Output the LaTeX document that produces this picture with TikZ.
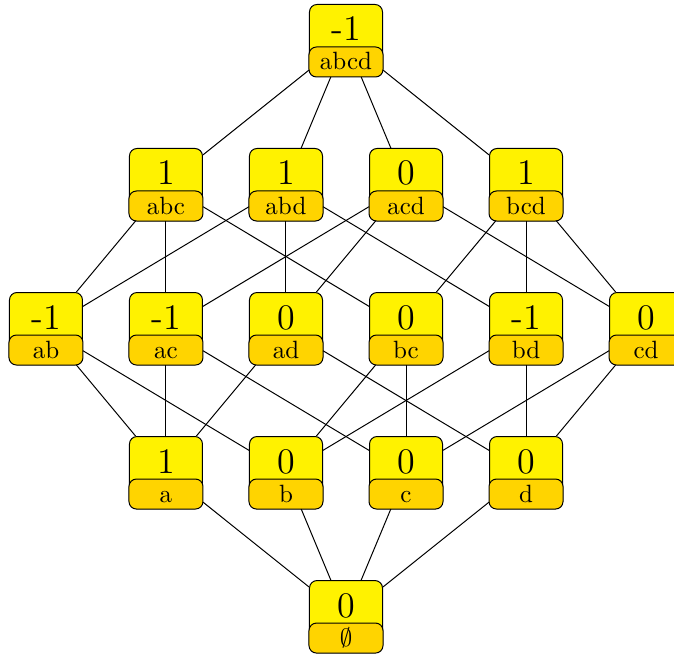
\documentclass[tikz,border=0pt]{standalone}
\usepackage{amsmath,amssymb}
\usepackage{xcolor}
\usepackage{tikz}

\definecolor{gold}{RGB}{255,212,0}
\tikzset{
  cell/.style={draw, fill=yellow, rounded corners=3pt, minimum width=29.2pt, minimum height=28.8pt, inner sep=0pt},
  setbox/.style={draw, fill=gold, rounded corners=3pt},
}
% #1 placement, #2 name, #3 value, #4 set
\newcommand{\lattnode}[4]{%
  \node [cell, #1] (#2) {};
  \draw [setbox] (#2.south west) rectangle ([yshift=12pt]#2.south east);
  \node [anchor=base] (#2-v) at ([yshift=14.4pt]#2.south) {\Large #3};
  \node [anchor=base] (#2-l) at ([yshift=2.8pt]#2.south) {#4};
}

\begin{document}
\begin{tikzpicture}[x=48pt, y=57.6pt, node distance=48pt]
\useasboundingbox (-1.383,0.281) rectangle (4.233,-4.267);

% Top
\lattnode{at={(1.5,0)}}{abcd}{-1}{abcd}

% Three elements
\lattnode{at={(0,-1)}}{abc}{1}{abc}
\lattnode{right of=abc}{abd}{1}{abd}
\lattnode{right of=abd}{acd}{0}{acd}
\lattnode{right of=acd}{bcd}{1}{bcd}

% Two elements
\lattnode{at={(-1,-2)}}{ab}{-1}{ab}
\lattnode{right of=ab}{ac}{-1}{ac}
\lattnode{right of=ac}{ad}{0}{ad}
\lattnode{right of=ad}{bc}{0}{bc}
\lattnode{right of=bc}{bd}{-1}{bd}
\lattnode{right of=bd}{cd}{0}{cd}

% One element
\lattnode{at={(0,-3)}}{a}{1}{a}
\lattnode{right of=a}{b}{0}{b}
\lattnode{right of=b}{c}{0}{c}
\lattnode{right of=c}{d}{0}{d}

% Bottom
\lattnode{at={(1.5,-4)}}{e}{0}{$\emptyset$}

% Covering relations
\foreach \s/\t in {abcd/abc, abcd/abd, abcd/acd, abcd/bcd,
    abc/ab, abc/ac, abc/bc, abd/ab, abd/ad, abd/bd,
    acd/ac, acd/ad, acd/cd, bcd/bc, bcd/bd, bcd/cd,
    ab/a, ab/b, ac/a, ac/c, ad/a, ad/d,
    bc/b, bc/c, bd/b, bd/d, cd/c, cd/d,
    a/e, b/e, c/e, d/e}
  \draw (\s) -- (\t);
\end{tikzpicture}
\end{document}
